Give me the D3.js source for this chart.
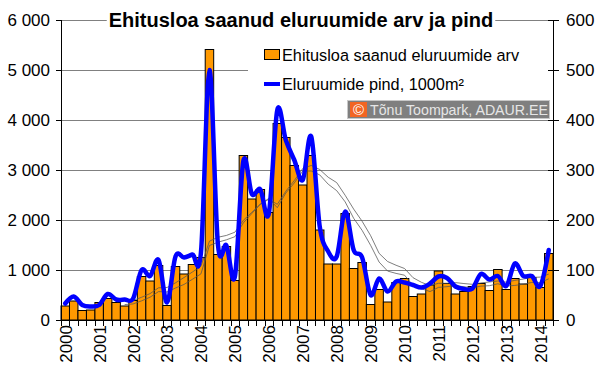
<!DOCTYPE html>
<html><head><meta charset="utf-8">
<script src="https://cdn.jsdelivr.net/npm/d3@7"></script>
<style>body{margin:0;background:#fff}svg{display:block;font-family:"Liberation Sans",Arial,sans-serif}</style>
</head><body><svg id="c" width="600" height="366"></svg>
<script>
const years = [2000,2001,2002,2003,2004,2005,2006,2007,2008,2009,2010,2011,2012,2013,2014];
const categories = [];
years.forEach(y => ["Q1","Q2","Q3","Q4"].forEach(q => categories.push(y + " " + q)));
categories.splice(58);

// Ehitusloa saanud eluruumide arv (left axis)
const permits = [280,380,190,200,350,430,350,280,390,870,780,1090,290,1070,920,1110,1250,5410,1310,1470,790,3290,2420,2610,2150,3930,3650,3090,2700,3290,1800,1120,1120,2130,1030,1150,310,610,360,750,830,470,520,700,980,730,520,570,670,730,590,1010,610,830,720,850,650,1330];
// Eluruumide pind, 1000 m² (right axis)
const area = [33,47,30,27,30,52,41,41,43,100,88,120,35,127,125,131,135,500,151,149,87,318,252,261,213,420,360,320,280,367,187,137,127,217,140,125,50,83,57,77,75,70,65,73,87,84,67,62,63,92,81,88,68,113,88,88,68,140];
// thin grey trend lines (left-axis units)
const permitsTrend = [null,null,null,null,null,null,null,308,321,383,456,568,560,640,711,815,923,1490,1556,1604,1666,1944,2131,2319,2431,2246,2539,2741,2980,2980,2902,2716,2587,2362,2035,1792,1494,1159,979,932,896,689,625,569,652,667,687,665,645,677,686,725,679,691,716,751,749,824];
const areaTrend = [null,null,null,null,null,null,null,376,389,455,528,644,650,744,849,961,1076,1576,1655,1691,1756,1995,2154,2316,2414,2314,2575,2789,3030,3091,3010,2855,2748,2494,2219,1975,1688,1333,1170,1095,1030,846,753,688,734,735,748,729,714,741,761,780,756,793,819,851,858,918];

const leftTicks = [0,1000,2000,3000,4000,5000,6000];
const rightTicks = [0,100,200,300,400,500,600];
const title = "Ehitusloa saanud eluruumide arv ja pind";
const legendLabels = ["Ehitusloa saanud eluruumide arv", "Eluruumide pind, 1000m²"];
const credit = "Tõnu Toompark, ADAUR.EE";

const svg = d3.select("#c");
const X0 = 61, X1 = 553, Y0 = 20, Y1 = 320;
const x = d3.scaleBand().domain(categories).range([X0, X1]).padding(0);
const yL = d3.scaleLinear().domain([0, 6000]).range([Y1, Y0]);
const yR = d3.scaleLinear().domain([0, 600]).range([Y1, Y0]);
const fmt = d3.formatLocale({decimal: ",", thousands: " ", grouping: [3], currency: ["", ""]}).format(",");

// gridlines
svg.append("g").selectAll("line").data(leftTicks.filter(d => d > 0)).join("line")
  .attr("x1", X0).attr("x2", X1)
  .attr("y1", d => Math.round(yL(d)) + 0.5).attr("y2", d => Math.round(yL(d)) + 0.5)
  .attr("stroke", "#808080").attr("stroke-width", 1);

// legend background (hides gridline)
svg.append("rect").attr("x", 248).attr("y", 36).attr("width", X1 - 248 - 0.5).attr("height", 64).attr("fill", "#fff");

// title background placeholder
const titleBg = svg.append("rect").attr("fill", "#fff");

// bars
svg.append("g").selectAll("rect").data(permits).join("rect")
  .attr("x", (d, i) => x(categories[i]))
  .attr("y", d => yL(d))
  .attr("width", x.bandwidth())
  .attr("height", d => Y1 - yL(d))
  .attr("fill", "#FF9900").attr("stroke", "#000").attr("stroke-width", 1);

// grey trend lines
const cx = i => x(categories[i]) + x.bandwidth() / 2;
const trendLine = d3.line().defined(d => d != null).x((d, i) => cx(i)).y(d => yL(d));
[permitsTrend, areaTrend].forEach(arr => {
  svg.append("path").attr("d", trendLine(arr)).attr("fill", "none")
    .attr("stroke", "#555").attr("stroke-width", 0.9).attr("stroke-opacity", 0.85);
});

// blue line
const blueLine = d3.line().x((d, i) => cx(i)).y(d => yR(d)).curve(d3.curveCatmullRom.alpha(0));
svg.append("path").attr("d", blueLine(area)).attr("fill", "none")
  .attr("stroke", "#0000FF").attr("stroke-width", 4.5).attr("stroke-linejoin", "round").attr("stroke-linecap", "round");

// axes
const axisG = svg.append("g").attr("stroke", "#000").attr("stroke-width", 1);
axisG.append("line").attr("x1", X0 + 0.5).attr("x2", X0 + 0.5).attr("y1", Y0).attr("y2", Y1 + 0.5);
axisG.append("line").attr("x1", X1 + 0.5).attr("x2", X1 + 0.5).attr("y1", Y0).attr("y2", Y1 + 0.5);
axisG.append("line").attr("x1", X0).attr("x2", X1 + 1).attr("y1", Y1 + 0.5).attr("y2", Y1 + 0.5);
axisG.selectAll(".lt").data(leftTicks).join("line")
  .attr("x1", X0 - 5).attr("x2", X0)
  .attr("y1", d => Math.round(yL(d)) + 0.5).attr("y2", d => Math.round(yL(d)) + 0.5);
axisG.selectAll(".rt").data(rightTicks).join("line")
  .attr("x1", X1 - 5).attr("x2", X1 + 6)
  .attr("y1", d => Math.round(yR(d)) + 0.5).attr("y2", d => Math.round(yR(d)) + 0.5);
const bounds = categories.map(c => x(c)).concat([X1]);
axisG.selectAll(".ct").data(bounds).join("line")
  .attr("x1", d => Math.round(d) + 0.5).attr("x2", d => Math.round(d) + 0.5)
  .attr("y1", Y1).attr("y2", Y1 + 6);

// tick labels
svg.append("g").selectAll("text").data(leftTicks).join("text")
  .attr("x", 50).attr("y", d => yL(d)).attr("dy", "0.35em")
  .attr("text-anchor", "end").attr("font-size", 17).attr("fill", "#000").text(d => fmt(d));
svg.append("g").selectAll("text").data(rightTicks).join("text")
  .attr("x", 566).attr("y", d => yR(d)).attr("dy", "0.35em")
  .attr("text-anchor", "start").attr("font-size", 17).attr("fill", "#000").text(d => d);
svg.append("g").selectAll("text").data(years).join("text")
  .attr("transform", d => `translate(${cx(categories.indexOf(d + " Q1")) + 0.5},325) rotate(-90)`)
  .attr("dy", "0.35em").attr("text-anchor", "end").attr("font-size", 17).attr("fill", "#000").text(d => d);

// title
const t = svg.append("text").attr("x", 301).attr("y", 27).attr("text-anchor", "middle")
  .attr("font-size", 20).attr("font-weight", "bold").attr("fill", "#000").text(title);
const tb = t.node().getBBox();
titleBg.attr("x", tb.x - 2).attr("y", 10).attr("width", tb.width + 4).attr("height", 18);

// legend
const lg = svg.append("g");
lg.append("rect").attr("x", 264.5).attr("y", 49.5).attr("width", 15).attr("height", 10)
  .attr("fill", "#FF9900").attr("stroke", "#000").attr("stroke-width", 1);
lg.append("text").attr("x", 282).attr("y", 61).attr("font-size", 16.3).attr("fill", "#000").text(legendLabels[0]);
lg.append("line").attr("x1", 264).attr("x2", 280).attr("y1", 84).attr("y2", 84)
  .attr("stroke", "#0000FF").attr("stroke-width", 4);
lg.append("text").attr("x", 282).attr("y", 90).attr("font-size", 16.3).attr("fill", "#000").text(legendLabels[1]);

// credit badge
const cb = svg.append("g");
cb.append("rect").attr("x", 347.5).attr("y", 100.5).attr("width", 202).attr("height", 18)
  .attr("fill", "#7f7f7f").attr("stroke", "#c8c8c8").attr("stroke-width", 1);
cb.append("rect").attr("x", 350).attr("y", 102).attr("width", 17).attr("height", 15).attr("fill", "#f26522");
cb.append("text").attr("x", 358.5).attr("y", 115).attr("text-anchor", "middle").attr("font-size", 15).attr("fill", "#fff").text("©");
cb.append("text").attr("x", 370).attr("y", 115).attr("font-size", 14.2).attr("fill", "#e6e6e6").text(credit);
</script></body></html>
